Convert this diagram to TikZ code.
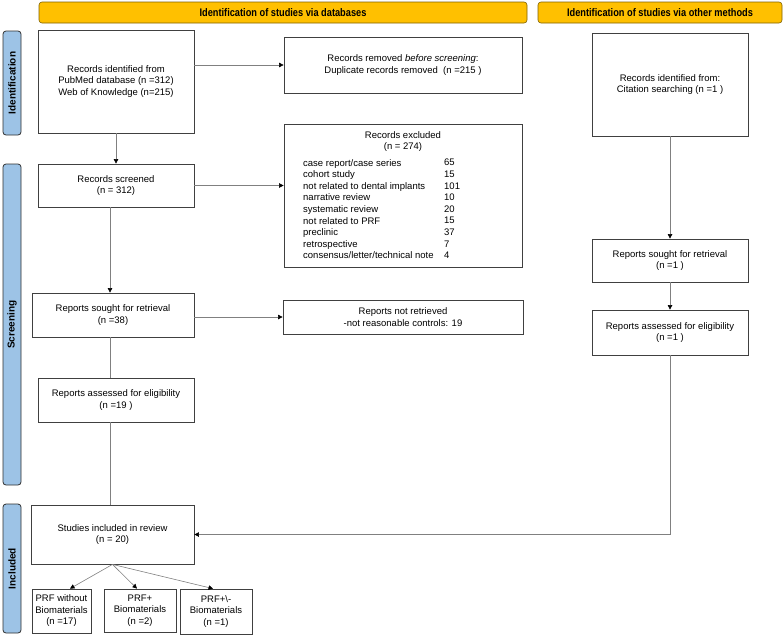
\documentclass[tikz,border=0pt]{standalone}
\usepackage{fontspec}
\setmainfont{Liberation Sans}
\usetikzlibrary{arrows.meta,positioning,calc}
\definecolor{hdrfill}{HTML}{FFC000}
\definecolor{hdrline}{HTML}{7F6000}
\definecolor{barfill}{HTML}{9DC3E6}
\definecolor{barline}{HTML}{303030}
\definecolor{boxline}{HTML}{404040}
\definecolor{conline}{HTML}{808080}
\tikzset{
  box/.style={draw=boxline, line width=0.8pt, fill=white, align=center, inner sep=2pt,
    font=\fontsize{9.5}{11.5}\selectfont},
  hdr/.style={draw=hdrline, fill=hdrfill, rounded corners=3pt, line width=0.6pt,
    font=\bfseries\fontsize{11}{12}\selectfont},
  sidebar/.style={draw=barline, fill=barfill, rounded corners=3pt, line width=0.8pt},
  bartext/.style={rotate=90, font=\bfseries\fontsize{10}{12}\selectfont},
  conn/.style={draw=conline, line width=0.6pt},
  arr/.style={conn, -{Triangle[length=4.5pt,width=4.5pt,color=black]}},
  plain/.style={font=\fontsize{9.5}{11.6}\selectfont, inner sep=0pt, align=left}
}
\begin{document}
\begin{tikzpicture}[x=1pt,y=-1pt]
\useasboundingbox (0,0) rectangle (784,635);
% headers
\node[hdr, minimum width=488, minimum height=21] (hdrL) at (283,12.5)
  {\scalebox{0.84}[1]{Identification of studies via databases}};
\node[hdr, minimum width=244, minimum height=21] (hdrR) at (660,12.5)
  {\scalebox{0.84}[1]{Identification of studies via other methods}};
% side bars
\node[sidebar, minimum width=18, minimum height=104] (barI) at (12,83) {};
\node[bartext] (barIt) at (barI.center) {Identification};
\node[sidebar, minimum width=18, minimum height=321] (barS) at (12,324.5) {};
\node[bartext] (barSt) at (barS.center) {Screening};
\node[sidebar, minimum width=18, minimum height=129] (barN) at (12,568.5) {};
\node[bartext] (barNt) at (barN.center) {Included};
% left column
\node[box, minimum width=156, minimum height=103] (idDB) at (116,81.5)
  {Records identified from\\PubMed database (n =312)\\Web of Knowledge (n=215)};
\node[box, minimum width=238, minimum height=56] (removed) at (403,65)
  {Records removed \textit{before screening}:\\Duplicate records removed~~(n =215 )};
\node[box, minimum width=156, minimum height=43] (screened) at (116,185.5)
  {Records screened\\(n = 312)};
\node[box, minimum width=238, minimum height=143] (exc) at (403,195.5) {};
\node[plain, align=center, anchor=north] (exct) at (403,131) {Records excluded\\(n = 274)};
\node[plain, anchor=north west] (excl) at (303,159)
  {case report/case series\\cohort study\\not related to dental implants\\narrative review\\systematic review\\not related to PRF\\preclinic\\retrospective\\consensus/letter/technical note};
\node[plain, anchor=north west] (excn) at (444,159)
  {65\\15\\101\\10\\20\\15\\37\\7\\4};
\node[box, minimum width=162, minimum height=44] (soughtL) at (113,315)
  {Reports sought for retrieval\\(n =38)};
\node[box, minimum width=240, minimum height=34] (notret) at (403,317)
  {Reports not retrieved\\-not reasonable controls: 19};
\node[box, minimum width=156, minimum height=44] (assessedL) at (116,400)
  {Reports assessed for eligibility\\(n =19 )};
\node[box, minimum width=163, minimum height=59] (included) at (112.5,534.5)
  {Studies included in review\\(n = 20)};
\node[box, minimum width=59, minimum height=44] (b1) at (61.5,611)
  {PRF without\\Biomaterials\\(n =17)};
\node[box, minimum width=72, minimum height=43] (b2) at (140,610.5)
  {PRF+\\Biomaterials\\(n =2)};
\node[box, minimum width=72, minimum height=45] (b3) at (216,611.5)
  {PRF+\textbackslash-\\Biomaterials\\(n =1)};
% right column
\node[box, minimum width=156, minimum height=103] (idOther) at (670,84.5)
  {Records identified from:\\Citation searching (n =1 )};
\node[box, minimum width=156, minimum height=43] (soughtR) at (670,260.5)
  {Reports sought for retrieval\\(n =1 )};
\node[box, minimum width=156, minimum height=45] (assessedR) at (670,332.5)
  {Reports assessed for eligibility\\(n =1 )};
% connectors
\draw[arr] (idDB.south) -- (screened.north);
\draw[arr] (removed.west -| idDB.east) -- (removed.west);
\draw[arr] (screened.east) -- (screened.east -| exc.west);
\draw[arr] ([xshift=-6pt]screened.south) -- ([xshift=-3pt]soughtL.north);
\draw[arr] (notret.west -| soughtL.east) -- (notret.west);
\draw[conn] ([xshift=-3pt]soughtL.south) -- ([xshift=-6pt]assessedL.north);
\draw[conn] ([xshift=-6pt]assessedL.south) -- ([xshift=-2.5pt]included.north);
\draw[arr] (idOther.south) -- (soughtR.north);
\draw[arr] (soughtR.south) -- (assessedR.north);
\draw[arr] (assessedR.south) |- (included.east);
\draw[arr] (included.south) -- ([xshift=8.5pt]b1.north);
\draw[arr] (included.south) -- ([xshift=-3pt]b2.north);
\draw[arr] (included.south) -- ([xshift=-3pt]b3.north);
\end{tikzpicture}
\end{document}
